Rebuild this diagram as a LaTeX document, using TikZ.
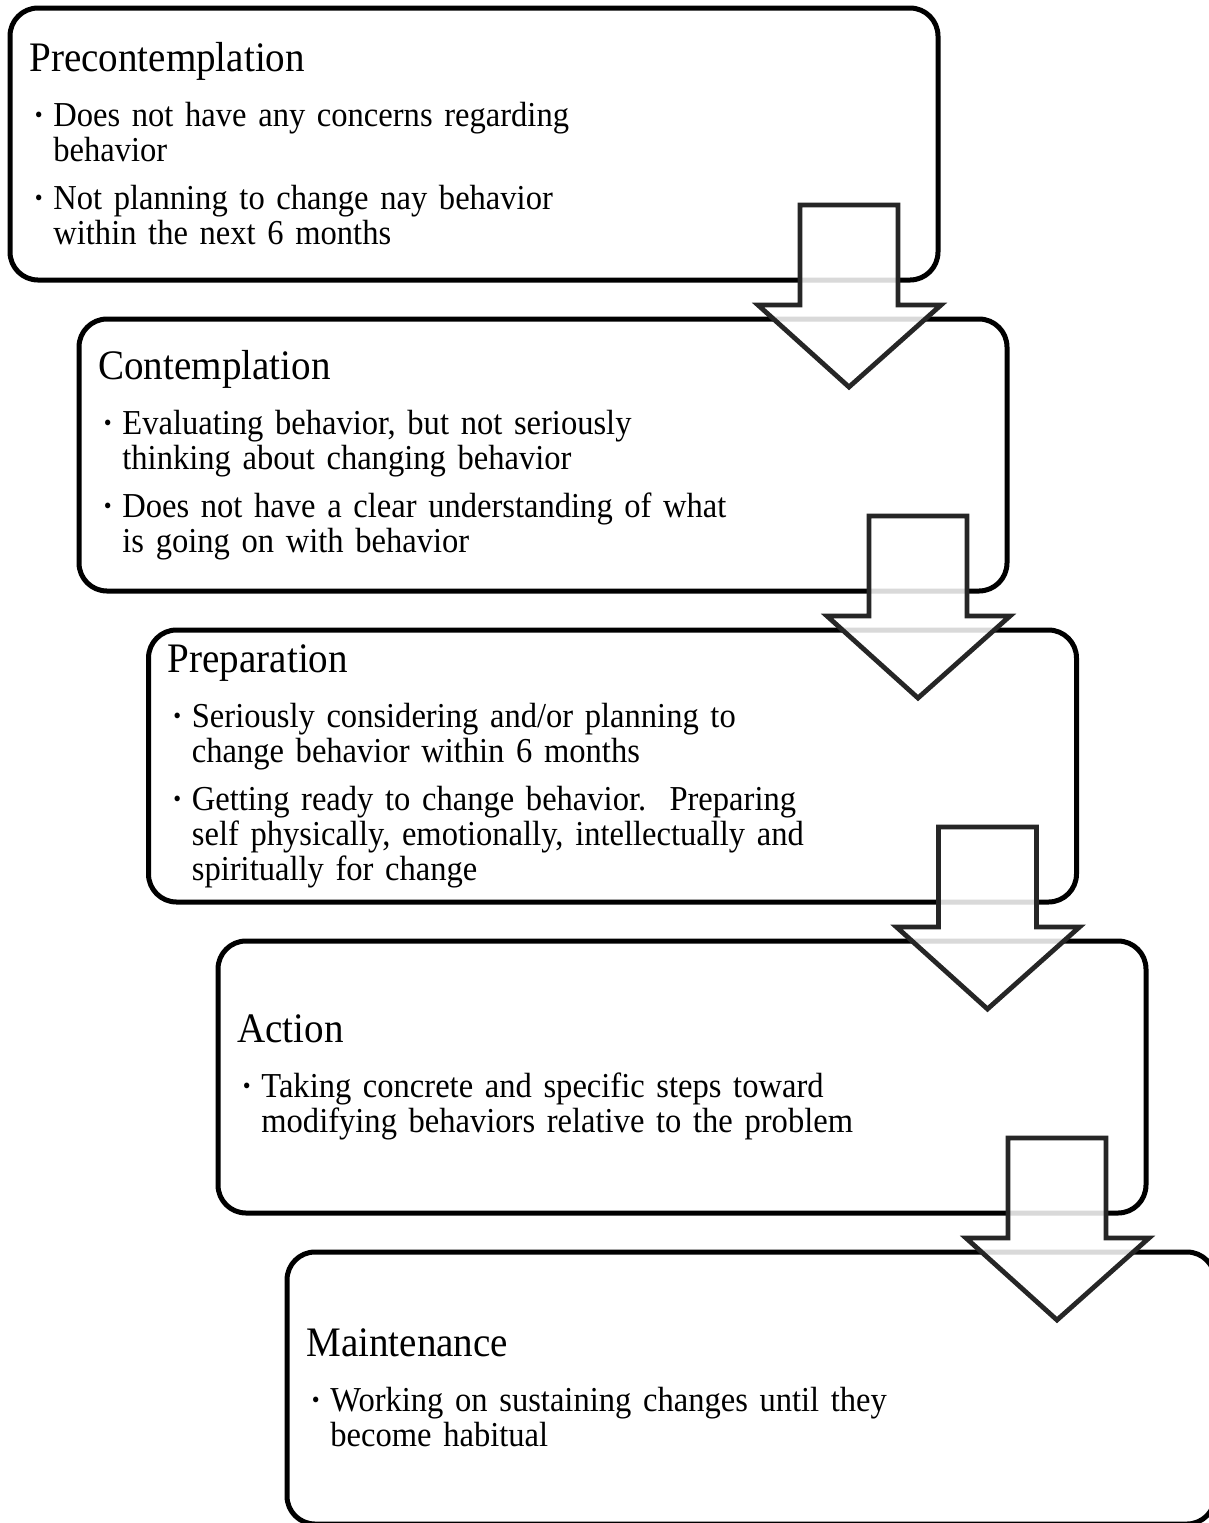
\documentclass[tikz,border=0pt]{standalone}
\usepackage{fontspec}
\setmainfont{Liberation Serif}[FakeStretch=0.93,WordSpace=0.9]

% title line and hanging bullet items inside a stage box
\newcommand{\stagetitle}[1]{\noindent{\fontsize{21}{21}\selectfont #1}\par\vspace{3.5pt}}
\newcommand{\stageitem}[1]{\par\vspace{6.5pt}\hangindent=12pt\hangafter=1\noindent\makebox[12pt][l]{\hspace{2pt}\textbf{·}}#1\par}

\begin{document}
\frenchspacing
\begin{tikzpicture}[x=0.5pt,y=-0.5pt,
  stagebox/.style={draw=black, line width=2.5pt, rounded corners=14pt,
    minimum width=464pt, minimum height=136pt, outer sep=0pt, inner sep=0pt,
    anchor=north west},
  stagetext/.style={anchor=west, inner sep=0pt, text width=440pt, align=left,
    font=\fontsize{17.5}{17.5}\selectfont},
  downarrow/.style={draw=black!85, line width=2.4pt, fill=white,
    fill opacity=0.85, draw opacity=1, miter limit=10}]

\useasboundingbox (0,0) rectangle (1209,1523);
\clip (0,0) rectangle (1209,1523);

% the five stage boxes, stepping down and to the right
\node[stagebox] (b1) at (10,8) {};
\node[stagebox] (b2) at (79,319) {};
\node[stagebox] (b3) at (148.5,630) {};
\node[stagebox] (b4) at (218,941) {};
\node[stagebox] (b5) at (287,1252) {};

\node[stagetext] (t1) at ([xshift=9.5pt]b1.west) {%
  \stagetitle{Precontemplation}%
  \stageitem{Does not have any concerns regarding\newline behavior}%
  \stageitem{Not planning to change nay behavior\newline within the next 6 months}};

\node[stagetext] (t2) at ([xshift=9.5pt]b2.west) {%
  \stagetitle{Contemplation}%
  \stageitem{Evaluating behavior, but not seriously\newline thinking about changing behavior}%
  \stageitem{Does not have a clear understanding of what\newline is going on with behavior}};

\node[stagetext] (t3) at ([xshift=9.5pt]b3.west) {%
  \stagetitle{Preparation}%
  \stageitem{Seriously considering and/or planning to\newline change behavior within 6 months}%
  \stageitem{Getting ready to change behavior.\ \ Preparing\newline self physically, emotionally, intellectually and\newline spiritually for change}};

\node[stagetext] (t4) at ([xshift=9.5pt]b4.west) {%
  \stagetitle{Action}%
  \stageitem{Taking concrete and specific steps toward\newline modifying behaviors relative to the problem}};

\node[stagetext] (t5) at ([xshift=9.5pt]b5.west) {%
  \stagetitle{Maintenance}%
  \stageitem{Working on sustaining changes until they\newline become habitual}};

% block arrows leading from each stage to the next
\foreach \b in {b1,b2,b3,b4}{
  \begin{scope}[shift={(\b.north west)}]
    \draw[downarrow] (790,197) -- (888,197) -- (888,297) -- (931,297)
      -- (839,379) -- (748,297) -- (790,297) -- cycle;
  \end{scope}
}
\end{tikzpicture}
\end{document}
